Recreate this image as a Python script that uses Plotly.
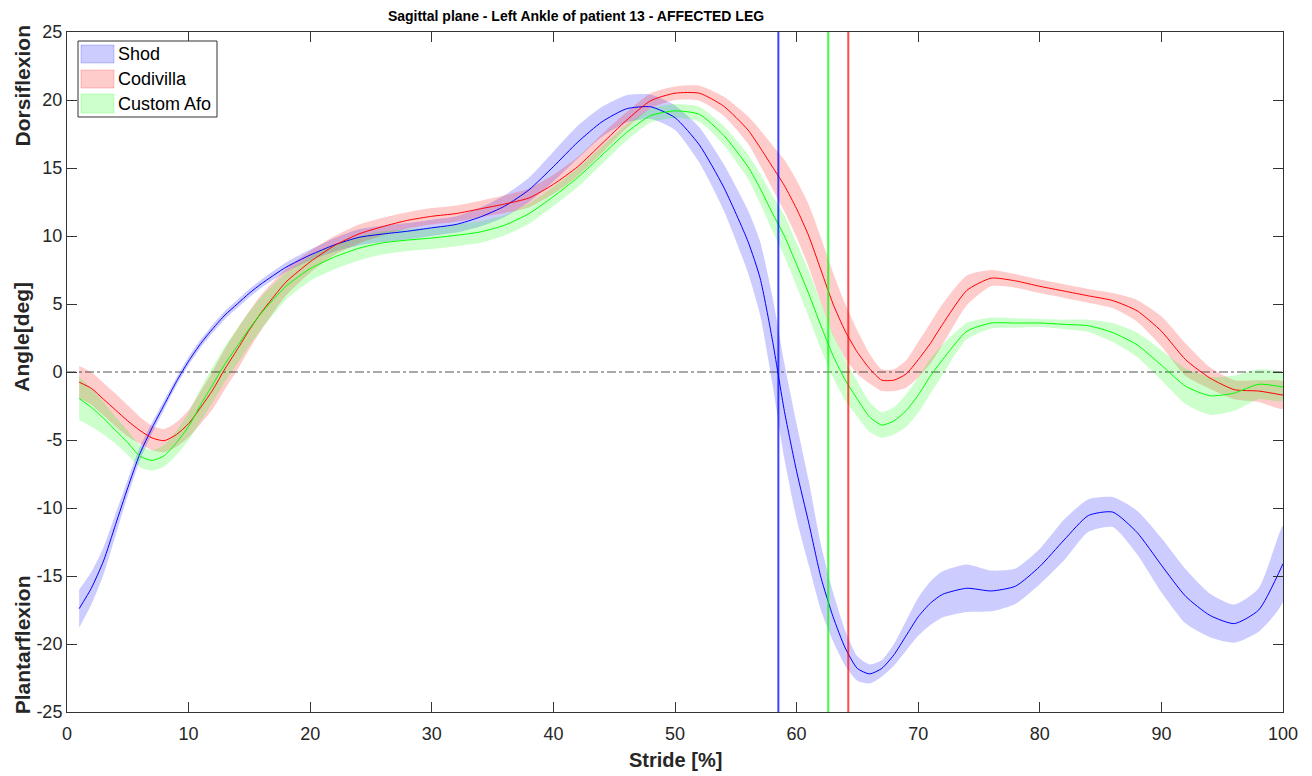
import plotly.graph_objects as go

# ---------------- data ----------------
stride = [1, 2, 3, 4, 5, 6, 7, 8, 9, 10, 11, 12, 13, 14, 15, 16,
          18, 20, 22, 24, 26, 28, 30, 32, 34, 36, 38, 40, 42, 44, 46, 48, 50, 52, 54, 56,
          57, 58, 59, 60, 61, 62, 63, 64, 65, 66, 67, 68, 69, 70, 71, 72,
          74, 76, 78, 80, 82, 84, 86, 88, 90, 92, 94, 96, 98, 100]

shod_mean = [-17.4, -15.9, -13.9, -11.2, -8.5, -6.0, -4.1, -2.4, -0.7, 0.8, 2.1, 3.2, 4.2, 5.0, 5.8, 6.5,
             7.7, 8.6, 9.35, 9.9, 10.15, 10.35, 10.6, 10.85, 11.4, 12.2, 13.4, 15.1, 16.9, 18.4, 19.35, 19.5, 18.7, 16.7, 13.6, 9.6,
             6.9, 2.4, -2.9, -7.3, -11.1, -15.1, -18.0, -20.3, -21.8, -22.2, -21.8, -20.8, -19.4, -18.0, -17.0, -16.35,
             -15.9, -16.1, -15.75, -14.3, -12.35, -10.55, -10.3, -11.8, -14.2, -16.5, -17.9, -18.5, -17.5, -14.1]
shod_sd = [1.4, 1.2, 1.0, 0.8, 0.6, 0.5, 0.4, 0.35, 0.3, 0.3, 0.3, 0.3, 0.3, 0.3, 0.3, 0.3,
           0.35, 0.4, 0.5, 0.6, 0.6, 0.6, 0.6, 0.6, 0.7, 0.8, 0.9, 1.1, 1.2, 1.1, 1.0, 0.9, 0.9, 1.3, 1.7, 2.3,
           2.7, 3.2, 3.5, 3.5, 3.1, 2.4, 1.8, 1.3, 0.9, 0.7, 0.6, 0.8, 1.1, 1.4, 1.6, 1.7,
           1.75, 1.5, 1.3, 1.3, 1.5, 1.2, 1.1, 1.6, 2.0, 2.0, 1.6, 1.4, 1.6, 2.8]

codivilla_mean = [-0.75, -1.2, -2.0, -2.8, -3.6, -4.3, -4.85, -5.05, -4.6, -3.8, -2.6, -1.3, 0.25, 1.65, 3.1, 4.4,
                  6.6, 8.1, 9.3, 10.15, 10.7, 11.15, 11.45, 11.65, 12.0, 12.35, 12.8, 13.8, 15.1, 16.8, 18.5, 19.95, 20.5, 20.5, 19.55, 17.8,
                  16.5, 15.1, 13.7, 12.0, 10.0, 7.5, 5.0, 3.0, 1.45, 0.25, -0.6, -0.6, -0.15, 0.9, 2.1, 3.5,
                  6.0, 6.9, 6.7, 6.3, 5.95, 5.6, 5.25, 4.5, 3.0, 0.9, -0.45, -1.3, -1.4, -1.7]
codivilla_sd = [1.2, 1.2, 1.2, 1.2, 1.15, 1.0, 0.9, 0.85, 0.9, 1.0, 1.2, 1.4, 1.5, 1.5, 1.4, 1.3,
                1.0, 0.8, 0.7, 0.7, 0.65, 0.6, 0.6, 0.6, 0.6, 0.65, 0.7, 0.7, 0.7, 0.7, 0.6, 0.55, 0.5, 0.55, 0.7, 1.0,
                1.3, 1.6, 1.9, 2.1, 2.3, 2.4, 2.3, 2.0, 1.6, 1.1, 0.8, 0.8, 1.0, 1.3, 1.5, 1.5,
                1.1, 0.6, 0.5, 0.5, 0.5, 0.5, 0.55, 0.8, 1.1, 1.2, 0.8, 0.7, 0.8, 1.0]

afo_mean = [-1.95, -2.6, -3.4, -4.3, -5.2, -6.2, -6.5, -6.15, -5.2, -4.0, -2.4, -0.9, 0.6, 1.9, 3.2, 4.35,
            6.3, 7.6, 8.45, 9.1, 9.5, 9.7, 9.85, 10.05, 10.3, 10.8, 11.65, 12.9, 14.3, 15.95, 17.6, 18.85, 19.2, 18.95, 17.4, 15.1,
            13.5, 11.7, 10.0, 7.9, 5.75, 3.4, 1.2, -0.6, -2.0, -3.3, -3.9, -3.6, -2.85, -1.7, -0.3, 0.9,
            3.0, 3.6, 3.6, 3.6, 3.5, 3.4, 2.9, 2.0, 0.5, -1.05, -1.75, -1.55, -0.9, -1.1]
afo_sd = [1.6, 1.4, 1.2, 1.0, 0.9, 0.8, 0.75, 0.8, 0.9, 1.0, 1.2, 1.3, 1.3, 1.3, 1.25, 1.2,
          1.0, 0.9, 0.9, 0.9, 0.85, 0.8, 0.8, 0.8, 0.8, 0.75, 0.75, 0.7, 0.7, 0.65, 0.6, 0.5, 0.5, 0.55, 0.7, 0.9,
          1.1, 1.3, 1.5, 1.6, 1.7, 1.7, 1.6, 1.5, 1.3, 1.1, 0.95, 1.0, 1.2, 1.3, 1.3, 1.1,
          0.6, 0.4, 0.35, 0.3, 0.35, 0.45, 0.7, 0.9, 1.1, 1.3, 1.4, 1.3, 1.1, 1.0]

series_names = ["Shod", "Codivilla", "Custom Afo"]
toe_off = [58.5, 64.25, 62.6]  # Shod, Codivilla, Custom Afo

x_ticks = list(range(0, 101, 10))
y_ticks = list(range(-25, 26, 5))
y_tick_labels = ["-25", "-20", "-15", "-10", "-5", "0", "5", "10", "15", "20", "25"]

# ---------------- styles ----------------
line_cols = ["rgb(0,0,255)", "rgb(255,0,0)", "rgb(0,255,0)"]
fill_cols = ["rgba(0,0,255,0.2)", "rgba(255,0,0,0.2)", "rgba(0,255,0,0.2)"]
vline_cols = ["rgba(0,0,255,0.75)", "rgba(255,0,0,0.7)", "rgba(0,255,0,0.75)"]
means = [shod_mean, codivilla_mean, afo_mean]
sds = [shod_sd, codivilla_sd, afo_sd]

FONT = "Liberation Sans, Arial, Helvetica, sans-serif"
TXT = "#262626"

fig = go.Figure()

# shaded bands (mean +/- sd)
for name, m, s, fc in zip(series_names, means, sds, fill_cols):
    upper = [a + b for a, b in zip(m, s)]
    lower = [a - b for a, b in zip(m, s)]
    fig.add_trace(go.Scatter(
        x=stride + stride[::-1], y=upper + lower[::-1],
        fill="toself", fillcolor=fc, mode="lines",
        line=dict(width=0, color=fc, shape="spline", smoothing=0.6),
        name=name, showlegend=False, hoverinfo="skip"))

# zero reference line
fig.add_trace(go.Scatter(x=[0, 100], y=[0, 0], mode="lines",
                         line=dict(color="rgba(40,40,40,0.8)", width=1, dash="dashdot"),
                         showlegend=False, hoverinfo="skip"))

# mean lines
for name, m, lc in zip(series_names, means, line_cols):
    fig.add_trace(go.Scatter(x=stride, y=m, mode="lines",
                             line=dict(color=lc, width=1, shape="spline", smoothing=0.6),
                             showlegend=False, name=name))

# toe-off vertical lines
for t, vc in zip(toe_off, vline_cols):
    fig.add_trace(go.Scatter(x=[t, t], y=[-25, 25], mode="lines",
                             line=dict(color=vc, width=2),
                             showlegend=False, hoverinfo="skip"))

axis_col = "#333333"
fig.update_xaxes(range=[0, 100], tickvals=x_ticks, ticks="inside", ticklen=10,
                 tickcolor=axis_col, showline=True, linecolor=axis_col, linewidth=1,
                 mirror="ticks", showgrid=False, zeroline=False, automargin=False,
                 ticklabelstandoff=5,
                 tickfont=dict(family=FONT, size=18, color=TXT))
fig.update_yaxes(range=[-25, 25], tickvals=y_ticks, ticktext=y_tick_labels,
                 ticks="inside", ticklen=10,
                 tickcolor=axis_col, showline=True, linecolor=axis_col, linewidth=1,
                 mirror="ticks", showgrid=False, zeroline=False, automargin=False,
                 tickfont=dict(family=FONT, size=18, color=TXT))

# plot area in page pixels
W, H = 1312, 776
PX0, PX1, PY0, PY1 = 67, 1283, 32, 712


def px_x(p):
    return (p - PX0) / (PX1 - PX0)


def px_y(p):
    return (PY1 - p) / (PY1 - PY0)


# axis titles
lab_font = dict(family=FONT, size=21, color=TXT)
for txt, yv in [("<b>Dorsiflexion</b>", 21.0), ("<b>Angle[deg]</b>", 2.6), ("<b>Plantarflexion</b>", -20.1)]:
    fig.add_annotation(text=txt, xref="paper", yref="y", x=px_x(22), y=yv,
                       textangle=-90, showarrow=False, xanchor="center", yanchor="middle",
                       font=lab_font)
fig.add_annotation(text="<b>Stride [%]</b>", xref="paper", yref="paper", x=0.5, y=px_y(760),
                   showarrow=False, xanchor="center", yanchor="middle",
                   font=dict(family=FONT, size=20, color=TXT))

# legend drawn in the top-left corner
fig.add_shape(type="rect", xref="paper", yref="paper",
              x0=px_x(78), x1=px_x(217), y0=px_y(117), y1=px_y(41),
              fillcolor="white", line=dict(color="#333333", width=1), layer="above")
leg_rows = [(45, 63, 54), (70, 88, 79), (94, 113, 104)]
for name, fc, lc, (ya, yb, yc) in zip(series_names, fill_cols, line_cols, leg_rows):
    fig.add_shape(type="rect", xref="paper", yref="paper",
                  x0=px_x(81), x1=px_x(114), y0=px_y(yb), y1=px_y(ya),
                  fillcolor=fc, line=dict(color=fc, width=1), layer="above")
    fig.add_annotation(text=name, xref="paper", yref="paper", x=px_x(116), y=px_y(yc),
                       showarrow=False, xanchor="left", yanchor="middle",
                       font=dict(family=FONT, size=18, color="black"))

fig.update_layout(
    width=W, height=H,
    margin=dict(l=PX0, r=W - PX1, t=PY0, b=H - PY1),
    paper_bgcolor="white", plot_bgcolor="white",
    title=dict(text="<b>Sagittal plane - Left Ankle of patient 13 - AFFECTED LEG</b>",
               x=576 / W, xanchor="center", y=1 - 16.5 / H, yanchor="middle",
               font=dict(family=FONT, size=14, color="black")),
    showlegend=False,
)

fig.write_html("out.html",
               config={"displayModeBar": False},
               post_script="document.body.style.margin='0';document.body.style.overflow='hidden';")
